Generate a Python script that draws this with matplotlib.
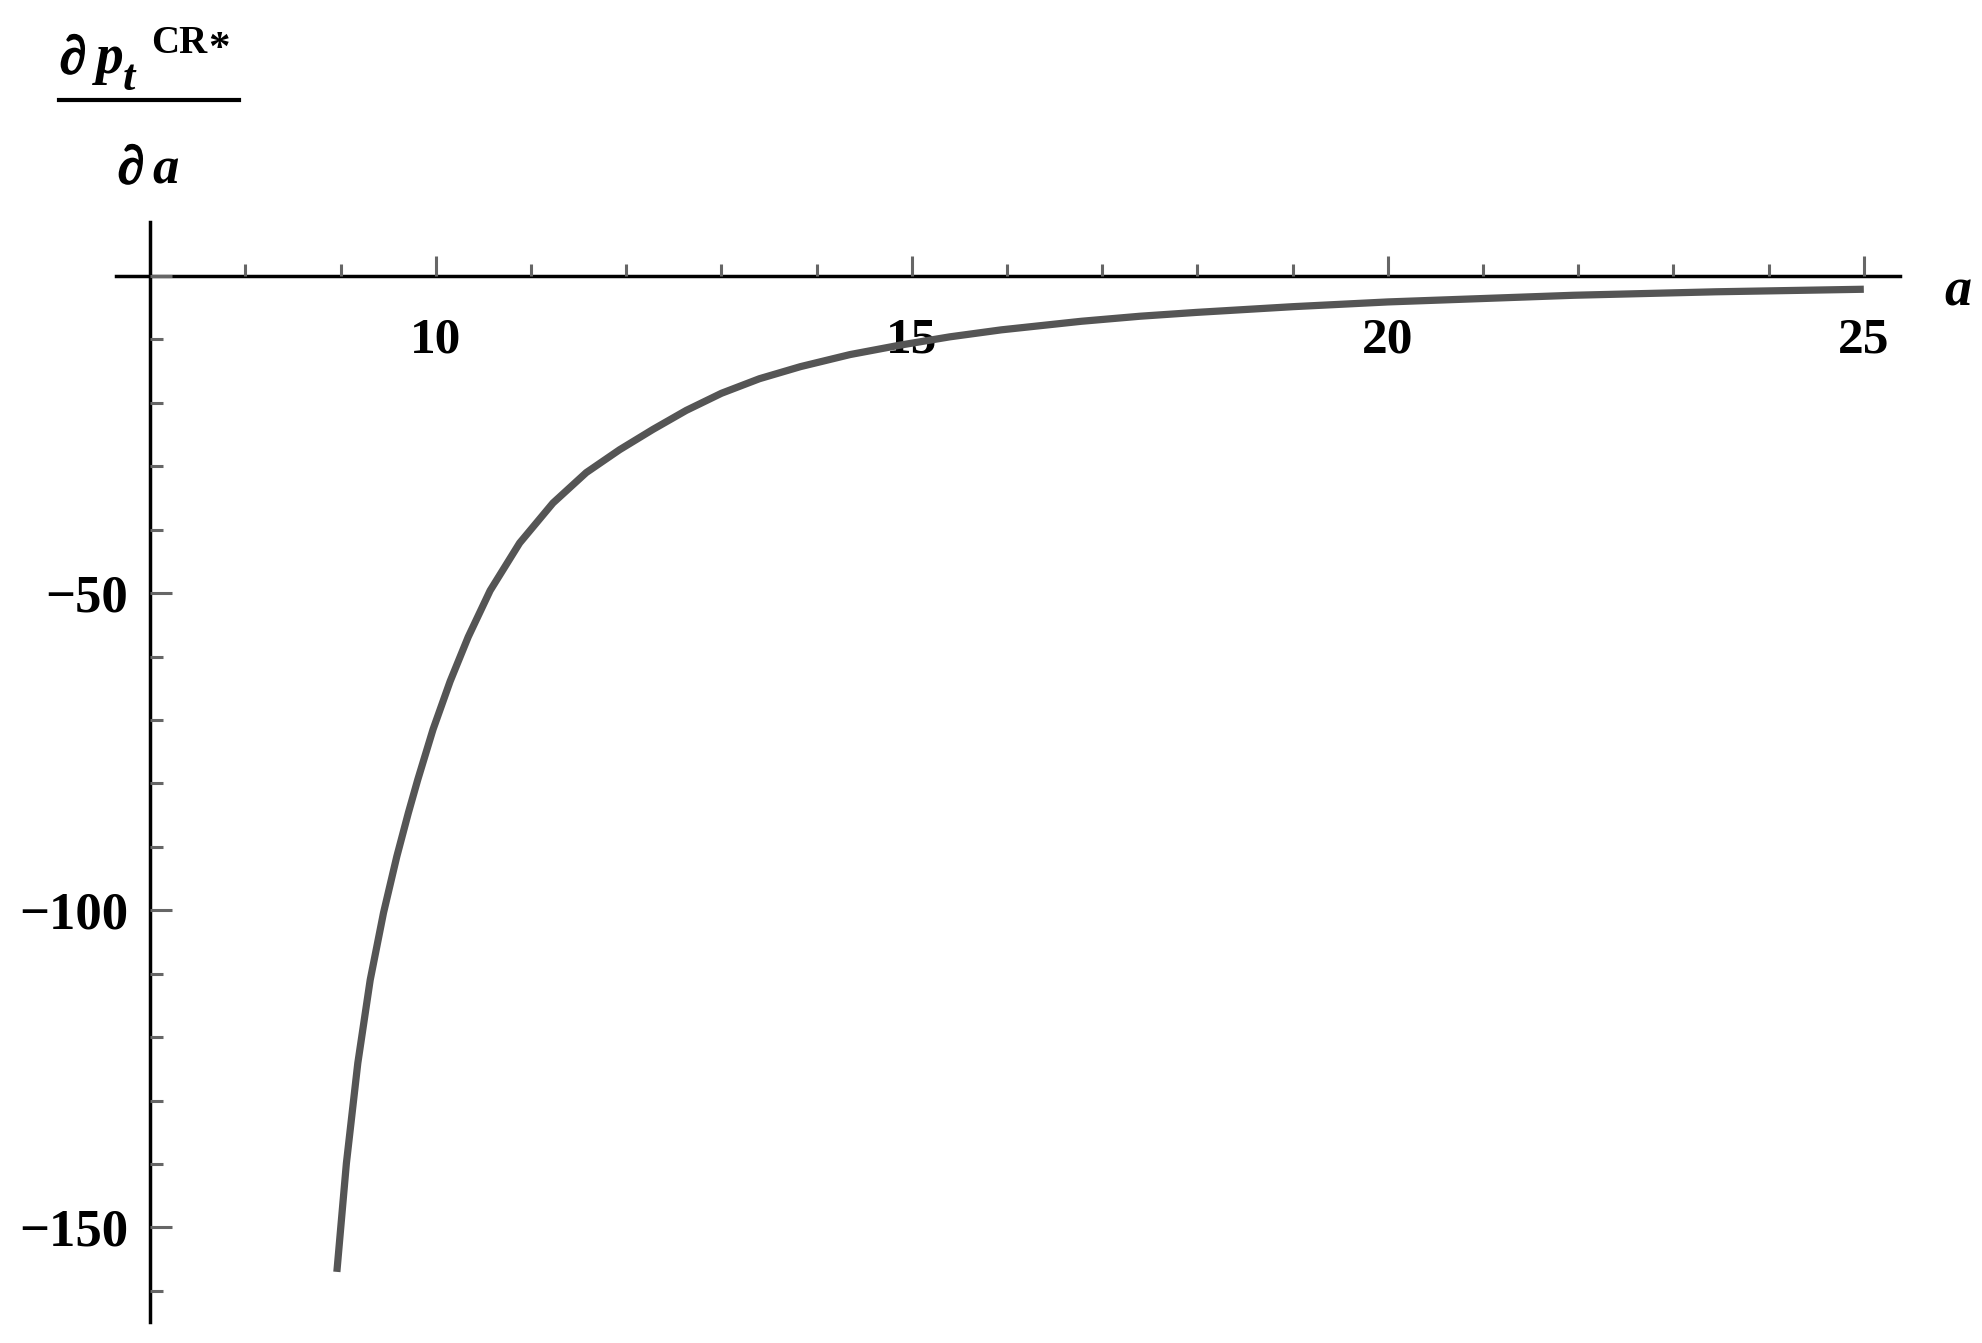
import numpy as np
import matplotlib
matplotlib.use("Agg")
import matplotlib.pyplot as plt
import matplotlib.patheffects as pe
from matplotlib.lines import Line2D
from matplotlib.ticker import FixedLocator

# Data
a_vals = [8.96, 9.06, 9.18, 9.31, 9.45, 9.59, 9.71, 9.81, 9.97, 10.15, 10.34,
          10.57, 10.88, 11.23, 11.58, 11.93, 12.28, 12.63, 13.0, 13.4, 13.83,
          14.35, 14.88, 15.4, 15.94, 16.78, 17.4, 17.99, 19.0, 20.0, 21.95,
          23.45, 25.0]
deriv_vals = [-157.0, -139.9, -124.1, -111.0, -100.4, -91.5, -84.7, -79.4,
              -71.5, -63.9, -56.9, -49.6, -42.1, -35.8, -31.0, -27.4, -24.2,
              -21.2, -18.5, -16.2, -14.3, -12.4, -10.9, -9.6, -8.5, -7.15,
              -6.35, -5.75, -4.85, -4.1, -3.05, -2.5, -2.1]

x_major = [10, 15, 20, 25]
x_minor = [8, 9, 11, 12, 13, 14, 16, 17, 18, 19, 21, 22, 23, 24]
y_major = [0, -50, -100, -150]
y_minor = [-10, -20, -30, -40, -60, -70, -80, -90, -110, -120, -130, -140, -160]

# Styling
plt.rcParams['font.family'] = ['Liberation Serif', 'DejaVu Serif']
plt.rcParams['font.weight'] = 'bold'
curve_color = '#555555'
tick_color = '#666666'

W, H = 1982, 1343
fig = plt.figure(figsize=(W / 100, H / 100), dpi=100)


def px(x, y):
    # reference pixel position -> figure fraction
    return x / W, 1 - y / H


# axes box in pixel coordinates of the reference
left_px, right_px, top_px, bottom_px = 116, 1900, 222, 1322
ax = fig.add_axes([left_px / W, 1 - bottom_px / H,
                   (right_px - left_px) / W, (bottom_px - top_px) / H])
ax.set_xlim(6.64, 25.38)
ax.set_ylim(-164.9, 8.5)

ax.plot(a_vals, deriv_vals, color=curve_color, linewidth=5.2,
        solid_capstyle='butt', solid_joinstyle='round')

for side in ['top', 'right']:
    ax.spines[side].set_visible(False)
ax.spines['left'].set_position(('data', 7))
ax.spines['bottom'].set_position(('data', 0))
for side in ['left', 'bottom']:
    ax.spines[side].set_linewidth(2.5)
    ax.spines[side].set_color('black')
    ax.spines[side].set_zorder(1)

ax.xaxis.set_major_locator(FixedLocator(x_major))
ax.xaxis.set_minor_locator(FixedLocator(x_minor))
ax.yaxis.set_major_locator(FixedLocator(y_major))
ax.yaxis.set_minor_locator(FixedLocator(y_minor))
ax.set_xticklabels([str(v) for v in x_major])
ax.set_yticklabels(['' if v == 0 else '\u2212' + str(-v) for v in y_major])

ax.tick_params(axis='x', which='major', direction='in', length=14.5, width=2.2,
               color=tick_color, labelsize=37, pad=30)
ax.tick_params(axis='x', which='minor', direction='in', length=8.6, width=2.2,
               color=tick_color)
ax.tick_params(axis='y', which='major', direction='in', length=15.5, width=2.2,
               color=tick_color, labelsize=38, pad=16)
ax.tick_params(axis='y', which='minor', direction='in', length=9.3, width=2.2,
               color=tick_color)

# axis labels
bi = dict(style='italic', weight='bold', va='baseline', ha='left')
thick = [pe.withStroke(linewidth=1.6, foreground='black')]
fig.text(*px(1944, 305), 'a', fontsize=39, **bi)

# numerator: d p_t^{CR*}
fig.text(*px(60, 73), '\u2202', fontsize=38, path_effects=thick, **bi)
fig.text(*px(96, 73), 'p', fontsize=40, **bi)
fig.text(*px(123, 90), 't', fontsize=32, **bi)
fig.text(*px(151, 53), 'CR', fontsize=28, weight='bold', va='baseline', ha='left')
fig.text(*px(208, 60), '*', fontsize=31, weight='bold', va='baseline', ha='left')
fig.add_artist(Line2D([59 / W, 239 / W], [1 - 100 / H, 1 - 100 / H],
                      color='black', linewidth=3))
# denominator: d a
fig.text(*px(118, 183), '\u2202', fontsize=38, path_effects=thick, **bi)
fig.text(*px(152, 183), 'a', fontsize=38, **bi)

fig.savefig('out.png', dpi=100)
